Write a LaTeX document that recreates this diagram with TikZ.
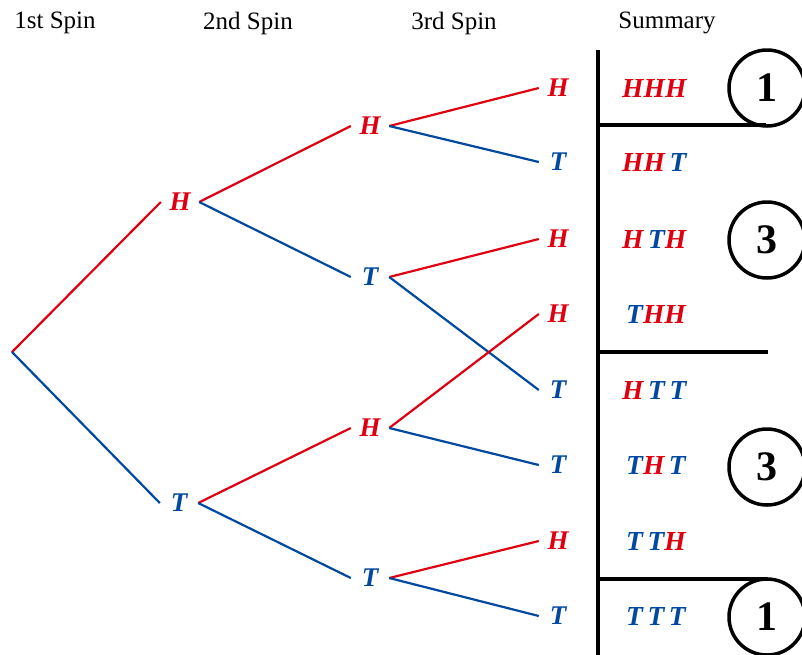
\documentclass[tikz,border=0pt]{standalone}
\usepackage{fontspec}
\setmainfont{Liberation Serif}
\definecolor{tred}{RGB}{222,0,16}
\definecolor{tblue}{RGB}{0,72,160}
\tikzset{
  lbl/.style={inner sep=0pt, minimum width=38pt, minimum height=20pt, font=\fontsize{27}{27}\selectfont\bfseries\itshape},
  hh/.style={lbl, text=tred},
  tt/.style={lbl, text=tblue},
  redline/.style={draw=tred, line width=2.2pt},
  blueline/.style={draw=tblue, line width=2.2pt},
  head/.style={font=\fontsize{25}{25}\selectfont, inner sep=0pt},
  summ/.style={anchor=west, inner sep=0pt, font=\fontsize{27.5}{27.5}\selectfont\bfseries\itshape},
  rule/.style={line width=4pt, draw=black},
  cnt/.style={circle, draw=black, line width=3.5pt, minimum size=76pt, inner sep=0pt, font=\fontsize{42}{42}\selectfont\bfseries}
}
\newcommand{\R}[1]{\textcolor{tred}{#1}}
\newcommand{\B}[1]{\textcolor{tblue}{#1}}
\begin{document}
\begin{tikzpicture}[x=1pt,y=-1pt]
\useasboundingbox (0,0) rectangle (802,654);
% headers
\node[head] (c1) at (55,23) {1st Spin};
\node[head] (c2) at (248,23) {2nd Spin};
\node[head] (c3) at (454,23) {3rd Spin};
\node[head] (c4) at (667,23) {Summary};
% tree nodes
\coordinate (root) at (12,352);
\node[hh] (h2) at (180,202) {H};
\node[tt] (t2) at (179,503) {T};
\node[hh] (h3a) at (370,126) {H};
\node[tt] (t3a) at (370,277) {T};
\node[hh] (h3b) at (370,428) {H};
\node[tt] (t3b) at (370,578) {T};
\node[hh] (l1) at (558,88) {H};
\node[tt] (l2) at (558,162) {T};
\node[hh] (l3) at (558,239) {H};
\node[hh] (l4) at (558,314) {H};
\node[tt] (l5) at (558,390) {T};
\node[tt] (l6) at (558,465) {T};
\node[hh] (l7) at (558,541) {H};
\node[tt] (l8) at (558,616) {T};
% edges
\draw[redline] (root) -- (h2.west);
\draw[blueline] (root) -- (t2.west);
\draw[redline] (h2.east) -- (h3a.west);
\draw[blueline] (h2.east) -- (t3a.west);
\draw[redline] (t2.east) -- (h3b.west);
\draw[blueline] (t2.east) -- (t3b.west);
\draw[redline] (h3a.east) -- (l1.west);
\draw[blueline] (h3a.east) -- (l2.west);
\draw[redline] (t3a.east) -- (l3.west);
\draw[blueline] (t3a.east) -- (l5.west);
\draw[redline] (h3b.east) -- (l4.west);
\draw[blueline] (h3b.east) -- (l6.west);
\draw[redline] (t3b.east) -- (l7.west);
\draw[blueline] (t3b.east) -- (l8.west);
% summary column
\node[summ] (s1) at (622,88) {\R{HHH}};
\node[summ] (s2) at (622,162) {\R{HH}\,\B{T}};
\node[summ] (s3) at (622,239) {\R{H}\,\B{T}\R{H}};
\node[summ] (s4) at (626,314) {\B{T}\R{HH}};
\node[summ] (s5) at (622,390) {\R{H}\,\B{T}\,\B{T}};
\node[summ] (s6) at (626,465) {\B{T}\R{H}\,\B{T}};
\node[summ] (s7) at (626,541) {\B{T}\,\B{T}\R{H}};
\node[summ] (s8) at (626,616) {\B{T}\,\B{T}\,\B{T}};
% rules
\coordinate (vtop) at (598,50);
\coordinate (vbot) at (598,660);
\draw[rule] (vtop) -- (vbot);
\node[cnt] (k1) at (767,88) {1};
\node[cnt] (k2) at (767,240) {3};
\node[cnt] (k3) at (767,467) {3};
\node[cnt] (k4) at (767,617) {1};
\coordinate (r1) at (598,125);
\coordinate (r1e) at (766,125);
\coordinate (r2) at (598,352);
\coordinate (r2e) at (768,352);
\coordinate (r3) at (598,579);
\coordinate (r3e) at (768,579);
\draw[rule] (r1) -- (r1e);
\draw[rule] (r2) -- (r2e);
\draw[rule] (r3) -- (r3e);
\end{tikzpicture}
\end{document}
